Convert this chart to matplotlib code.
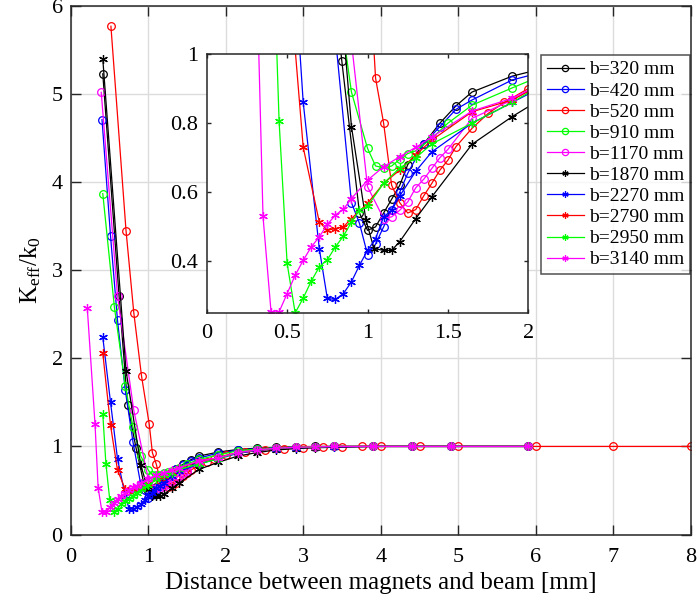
import matplotlib
matplotlib.use("Agg")
import matplotlib.pyplot as plt

plt.rcParams["font.family"] = "Liberation Serif"
plt.rcParams["mathtext.fontset"] = "custom"
plt.rcParams["mathtext.rm"] = "Liberation Serif"
plt.rcParams["mathtext.it"] = "Liberation Serif:italic"

# tail points shared by most runs (x in mm)
tail_x = [2.15, 2.40, 2.65, 2.90, 3.15, 3.40, 3.90, 4.40, 4.90, 5.90]

x320 = [0.41, 0.62, 0.73, 0.84, 0.95, 1.00, 1.05, 1.10, 1.15, 1.20, 1.25, 1.35, 1.45, 1.55, 1.65, 1.90] + tail_x
k320 = [5.23, 2.71, 1.47, 0.98, 0.54, 0.49, 0.50, 0.54, 0.58, 0.62, 0.68, 0.74, 0.80, 0.85, 0.89, 0.936,
        0.965, 0.98, 0.99, 0.995, 1.0, 1.0, 1.0, 1.0, 1.0, 1.0]

x420 = [0.40, 0.51, 0.60, 0.70, 0.80, 0.90, 0.95, 1.00, 1.05, 1.10, 1.15, 1.20, 1.25, 1.35, 1.45, 1.55,
        1.65, 1.90] + tail_x
k420 = [4.71, 3.39, 2.43, 1.64, 1.05, 0.57, 0.51, 0.42, 0.45, 0.50, 0.55, 0.60, 0.655, 0.74, 0.79, 0.84,
        0.867, 0.925, 0.955, 0.975, 0.985, 0.99, 0.995, 1.0, 1.0, 1.0, 1.0, 1.0]

x520 = [0.515, 0.71, 0.81, 0.91, 1.01, 1.05, 1.10, 1.15, 1.20, 1.25, 1.30, 1.35, 1.40, 1.45, 1.50, 1.55,
        1.65, 1.75, 1.85, 2.0, 2.25, 2.5, 2.75, 3.0, 3.25, 3.5, 3.75, 4.0, 4.5, 5.0, 6.0, 7.0, 8.0]
k520 = [5.77, 3.45, 2.52, 1.80, 1.25, 0.93, 0.80, 0.62, 0.57, 0.54, 0.55, 0.59, 0.626, 0.664, 0.693, 0.732,
        0.785, 0.828, 0.86, 0.90, 0.935, 0.96, 0.975, 0.985, 0.99, 0.995, 1.0, 1.0, 1.0, 1.0, 1.0, 1.0, 1.0]

x910 = [0.41, 0.56, 0.70, 0.80, 0.90, 1.00, 1.05, 1.10, 1.15, 1.20, 1.25, 1.30, 1.40, 1.50, 1.65,
        1.90] + tail_x
k910 = [3.87, 2.58, 1.69, 1.22, 0.89, 0.727, 0.676, 0.671, 0.676, 0.695, 0.712, 0.72, 0.756, 0.80, 0.852,
        0.902, 0.95, 0.97, 0.985, 0.99, 0.995, 1.0, 1.0, 1.0, 1.0, 1.0]

x1170 = [0.39, 0.60, 0.81, 1.00, 1.10, 1.15, 1.20, 1.25, 1.30, 1.35, 1.40, 1.45, 1.50, 1.65, 1.90] + tail_x
k1170 = [5.02, 2.71, 1.41, 0.616, 0.524, 0.529, 0.548, 0.572, 0.613, 0.638, 0.669, 0.70, 0.724, 0.814,
         0.867, 0.93, 0.96, 0.98, 0.99, 0.995, 1.0, 1.0, 1.0, 1.0, 1.0]

x1870 = [0.41, 0.71, 0.90, 0.99, 1.04, 1.10, 1.15, 1.20, 1.30, 1.40, 1.65, 1.90] + tail_x
k1870 = [5.40, 1.86, 0.79, 0.52, 0.437, 0.432, 0.432, 0.457, 0.524, 0.587, 0.739, 0.819,
         0.89, 0.93, 0.96, 0.975, 0.985, 0.99, 1.0, 1.0, 1.0, 1.0]

x2270 = [0.41, 0.51, 0.60, 0.70, 0.75, 0.80, 0.85, 0.90, 0.95, 1.00, 1.05, 1.10, 1.15, 1.20, 1.30, 1.40,
         1.65, 1.90] + tail_x
k2270 = [2.24, 1.50, 0.86, 0.437, 0.293, 0.29, 0.307, 0.341, 0.389, 0.432, 0.466, 0.529, 0.548, 0.589,
         0.661, 0.717, 0.80, 0.86, 0.92, 0.955, 0.975, 0.985, 0.99, 0.995, 1.0, 1.0, 1.0, 1.0]

x2790 = [0.41, 0.51, 0.60, 0.70, 0.75, 0.80, 0.85, 0.90, 1.00, 1.10, 1.20, 1.30, 1.40, 1.65, 1.90] + tail_x
k2790 = [2.06, 1.24, 0.73, 0.514, 0.49, 0.495, 0.50, 0.524, 0.568, 0.626, 0.664, 0.708, 0.751, 0.833,
         0.867, 0.93, 0.96, 0.98, 0.99, 0.995, 1.0, 1.0, 1.0, 1.0, 1.0]

x2950 = [0.41, 0.45, 0.50, 0.55, 0.60, 0.65, 0.70, 0.75, 0.80, 0.85, 0.90, 0.95, 1.00, 1.10, 1.20, 1.30,
         1.40, 1.65, 1.90] + tail_x
k2950 = [1.37, 0.806, 0.394, 0.251, 0.294, 0.343, 0.384, 0.405, 0.442, 0.473, 0.514, 0.548, 0.56, 0.626,
         0.67, 0.70, 0.74, 0.80, 0.86, 0.93, 0.96, 0.98, 0.99, 0.995, 1.0, 1.0, 1.0, 1.0, 1.0]

x3140 = [0.21, 0.31, 0.35, 0.40, 0.45, 0.50, 0.55, 0.60, 0.65, 0.70, 0.75, 0.80, 0.85, 0.90, 1.00, 1.10,
         1.20, 1.30, 1.40, 1.65, 1.90] + tail_x
k3140 = [2.57, 1.25, 0.53, 0.254, 0.254, 0.307, 0.36, 0.403, 0.442, 0.471, 0.507, 0.534, 0.551, 0.582,
         0.635, 0.674, 0.703, 0.73, 0.76, 0.835, 0.872, 0.93, 0.96, 0.98, 0.99, 0.995, 1.0, 1.0, 1.0, 1.0, 1.0]

labels = ["b=320 mm", "b=420 mm", "b=520 mm", "b=910 mm", "b=1170 mm",
          "b=1870 mm", "b=2270 mm", "b=2790 mm", "b=2950 mm", "b=3140 mm"]
xs = [x320, x420, x520, x910, x1170, x1870, x2270, x2790, x2950, x3140]
ks = [k320, k420, k520, k910, k1170, k1870, k2270, k2790, k2950, k3140]
colors = ["k", "b", "r", (0, 1, 0), (1, 0, 1)] * 2
markers = ["o"] * 5 + [(6, 2, 0)] * 5

spine_c = "#262626"


def style_axes(ax, ticklen, labelsize, xpad, ypad):
    for s in ax.spines.values():
        s.set_color(spine_c)
        s.set_linewidth(1.1)
    ax.tick_params(direction="in", top=True, right=True, length=ticklen, width=1.0,
                   color=spine_c, labelsize=labelsize)
    ax.tick_params(axis="x", pad=xpad)
    ax.tick_params(axis="y", pad=ypad)


def draw(ax, ms):
    lines = []
    for x, k, c, m, lab in zip(xs, ks, colors, markers, labels):
        star = m != "o"
        ln, = ax.plot(x, k, color=c, lw=0.9, marker=m, label=lab,
                      ms=ms + (0.8 if star else 0), mfc="none", mec=c,
                      mew=0.9)
        lines.append(ln)
    return lines


fig = plt.figure(figsize=(6.97, 6.02), dpi=100)
ax = fig.add_axes([0.1019, 0.1121, 0.8891, 0.878])
ax.grid(True, color="#dcdcdc", lw=1.0)
ax.set_axisbelow(True)
lines = draw(ax, 5.5)
ax.set_xlim(0, 8)
ax.set_ylim(0, 6)
ax.set_xticks(range(0, 9))
ax.set_yticks(range(0, 7))
style_axes(ax, 7, 16, 10, 6)
ax.set_xlabel("Distance between magnets and beam [mm]", fontsize=18, labelpad=3)
ax.set_ylabel(r"K$_{\mathrm{eff}}$/k$_{\mathrm{0}}$", fontsize=18, labelpad=6)

ins = fig.add_axes([0.2966, 0.4796, 0.4614, 0.4307])
draw(ins, 5.5)
ins.set_xlim(0, 2)
ins.set_ylim(0.25, 1)
ins.set_xticks([0, 0.5, 1, 1.5, 2])
ins.set_xticklabels(["0", "0.5", "1", "1.5", "2"])
ins.set_yticks([0.4, 0.6, 0.8, 1])
ins.set_yticklabels(["0.4", "0.6", "0.8", "1"])
style_axes(ins, 3, 16, 8, 6)

leg = fig.legend(handles=lines, loc="upper right", bbox_to_anchor=(0.990, 0.9086),
                 fontsize=14, frameon=True, fancybox=False, edgecolor=spine_c,
                 handlelength=1.9, handletextpad=0.25, labelspacing=0.18,
                 borderpad=0.3, borderaxespad=0.0)
leg.get_frame().set_linewidth(1.1)
for h in leg.legend_handles:
    h.set_markersize(4.5)

fig.savefig("out.png", dpi=100)
